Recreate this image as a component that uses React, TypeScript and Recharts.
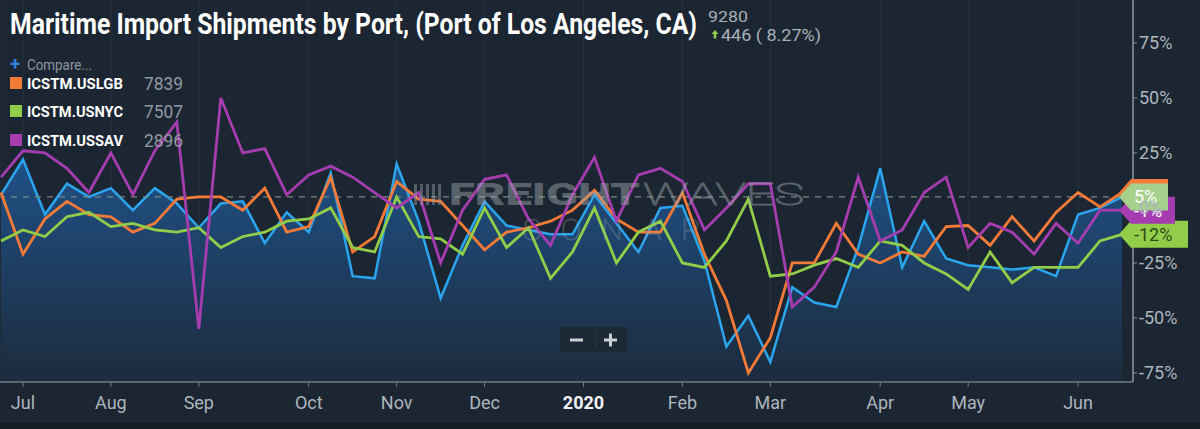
import React from 'react';
import {
  ComposedChart,
  Area,
  Line,
  XAxis,
  YAxis,
  CartesianGrid,
  ReferenceLine,
  ReferenceDot,
} from 'recharts';

// Weekly year-over-year change (%), late Jun 2019 .. mid Jun 2020
const LA_VALUES = [
  6, 22, -3, 11, 5, 9, -1, 9, 2, -9, 2, 3, -16, -2, -11, 16, -31, -32, 20, -6, -41, -17,
  3, -8, -10, -12, -12, 6, -7, -20, 0, 1, -24, -63, -49, -70, -36, -43, -45, -18, 18, -27,
  -6, -23, -26, -27, -28, -27, -31, -3, 0, 5,
];
const LGB_VALUES = [
  7, -21, -5, 3, -3, -4, -11, -7, 4, 5, 5, -1, 9, -11, -8.5, 14, -20, -13, 12, 4, 3, -8,
  -19, -11, -9, -6, -1, 8, -5, -11, -11, 7, -21, -42, -75, -59, -25, -25, -7, -21, -25, -20,
  -22, -8.5, -8, -17, -4, -15, -2, 7, 0.5, 7,
];
const NYC_VALUES = [
  -15, -10, -13, -4, -2, -8.5, -7, -10, -11, -9, -18, -13, -11, -6, -5, 0, -18, -20, 5, -13,
  -14, -21, 0, -18, -9, -32, -20, 0, -25, -11, -6, -25, -27, -15, 4, -31, -30, -26, -23, -27,
  -15, -17, -25, -30, -37, -20, -34, -27, -27, -27, -15, -12,
];
const SAV_VALUES = [
  14, 26, 25, 18, 7, 25, 6, 26, 39, -55, 50, 25, 27, 6, 15, 19, 14, 7, 0, 7, -25, -1, 13,
  15, -5, -17, 6, 23, -6, 15, 18, 12, -10, 0, 11, 11, -45, -36, -20, 14, -15, -10, 7, 14,
  -18, -7, -11, -21, -7, -16, -1, -1,
];

const X_TICKS = [1, 5, 9, 14, 18, 22, 26.5, 31, 35, 40, 44, 49];
const X_LABELS = ['Jul', 'Aug', 'Sep', 'Oct', 'Nov', 'Dec', '2020', 'Feb', 'Mar', 'Apr', 'May', 'Jun'];
const Y_TICKS = [-75, -50, -25, 0, 25, 50, 75];

const LEGEND_NAMES = ['ICSTM.USLGB', 'ICSTM.USNYC', 'ICSTM.USSAV'];
const LEGEND_VALUES = ['7839', '7507', '2896'];

const C_BG = '#1c2632';
const C_BLUE = '#2aa5ee';
const C_ORANGE = '#f47a38';
const C_GREEN = '#92cd4a';
const C_MAGENTA = '#a53db0';
const C_AXIS_TEXT = '#aeb5bd';
const LEGEND_COLORS = [C_ORANGE, C_GREEN, C_MAGENTA];

const data = LA_VALUES.map((v, i) => ({
  i,
  la: v,
  lgb: LGB_VALUES[i],
  nyc: NYC_VALUES[i],
  sav: SAV_VALUES[i],
}));

const LAST = LA_VALUES.length - 1;
const FONT = 'Roboto, "Noto Sans", sans-serif';

const XTick = (props: any) => {
  const { x, y, payload } = props;
  const idx = X_TICKS.indexOf(payload.value);
  const label = X_LABELS[idx] ?? '';
  const bold = label === '2020';
  return (
    <text
      x={x}
      y={y + 20}
      textAnchor="middle"
      fontFamily={FONT}
      fontSize={18}
      fontWeight={bold ? 700 : 400}
      fill={bold ? '#f1f3f5' : C_AXIS_TEXT}
    >
      {label}
    </text>
  );
};

const YTick = (props: any) => {
  const { x, y, payload } = props;
  return (
    <text x={x} y={y + 6.5} textAnchor="start" fontFamily={FONT} fontSize={18} fill={C_AXIS_TEXT}>
      {`${payload.value}%`}
    </text>
  );
};

const makeTag = (fill: string, textColor: string, label: string, width: number) => (props: any) => {
  const { cx, cy } = props;
  if (cx == null || cy == null) return <g />;
  const left = cx - 3;
  const bodyStart = cx + 9;
  const right = bodyStart + width;
  const h = 13.5;
  const d = `M${left},${cy} L${bodyStart},${cy - h} L${right},${cy - h} L${right},${cy + h} L${bodyStart},${cy + h} Z`;
  return (
    <g>
      <path d={d} fill={fill} />
      <text
        x={bodyStart + 3}
        y={cy + 6.5}
        fontFamily={FONT}
        fontSize={18}
        fill={textColor}
      >
        {label}
      </text>
    </g>
  );
};

const fmt = (v: number) => `${Math.round(v)}%`;

export default function App() {
  return (
    <div
      style={{
        position: 'absolute',
        left: 0,
        top: 0,
        width: 1200,
        height: 429,
        background: C_BG,
        overflow: 'hidden',
      }}
    >
      <div style={{ position: 'absolute', left: 0, top: 423, width: 1200, height: 6, background: '#151c25' }} />
      <div style={{ position: 'absolute', left: 0, top: 0 }}>
        <ComposedChart width={1200} height={423} data={data} margin={{ top: 0, right: 0, bottom: 0, left: 0 }}>
          <defs>
            <linearGradient id="laFill" x1="0" y1="0" x2="0" y2="1">
              <stop offset="0%" stopColor="#1f5186" stopOpacity={1} />
              <stop offset="100%" stopColor="#1c2b3d" stopOpacity={1} />
            </linearGradient>
          </defs>
          <CartesianGrid vertical horizontal={false} stroke="#25313e" strokeWidth={1} />
          <XAxis
            type="number"
            dataKey="i"
            domain={[-0.0455, 51.5]}
            ticks={X_TICKS}
            allowDataOverflow
            height={41}
            axisLine={{ stroke: '#727d88', strokeWidth: 1.5 }}
            tickLine={{ stroke: '#727d88' }}
            tickSize={5}
            tick={<XTick />}
            interval={0}
          />
          <YAxis
            orientation="right"
            type="number"
            domain={[-79.1, 94.5]}
            ticks={Y_TICKS}
            allowDataOverflow
            width={67}
            axisLine={{ stroke: '#8d959d', strokeWidth: 1.5 }}
            tickLine={{ stroke: '#8d959d' }}
            tickSize={4}
            tick={<YTick />}
            interval={0}
          />
          <Area
            type="linear"
            dataKey="la"
            stroke={C_BLUE}
            strokeWidth={2.5}
            fill="url(#laFill)"
            fillOpacity={1}
            baseValue="dataMin"
            isAnimationActive={false}
            dot={false}
            activeDot={false}
          />
          <ReferenceLine y={LA_VALUES[LAST]} stroke="#7b877f" strokeDasharray="6 6" strokeWidth={1.3} />
          <Line type="linear" dataKey="lgb" stroke={C_ORANGE} strokeWidth={2.8} dot={false} activeDot={false} isAnimationActive={false} />
          <Line type="linear" dataKey="nyc" stroke={C_GREEN} strokeWidth={2.8} dot={false} activeDot={false} isAnimationActive={false} />
          <Line type="linear" dataKey="sav" stroke={C_MAGENTA} strokeWidth={2.8} dot={false} activeDot={false} isAnimationActive={false} />
          <ReferenceDot
            x={LAST}
            y={NYC_VALUES[LAST]}
            ifOverflow="visible"
            shape={makeTag(C_GREEN, '#2e4a1a', fmt(NYC_VALUES[LAST]), 57)}
          />
          <ReferenceDot
            x={LAST}
            y={LGB_VALUES[LAST]}
            ifOverflow="visible"
            shape={makeTag(C_ORANGE, '#ffffff', fmt(LGB_VALUES[LAST]), 37)}
          />
          <ReferenceDot
            x={LAST}
            y={SAV_VALUES[LAST]}
            ifOverflow="visible"
            shape={makeTag(C_MAGENTA, '#ffffff', fmt(SAV_VALUES[LAST]), 44)}
          />
          <ReferenceDot
            x={LAST}
            y={LA_VALUES[LAST]}
            ifOverflow="visible"
            shape={makeTag('#a6d18d', '#ffffff', fmt(LA_VALUES[LAST]), 37)}
          />
        </ComposedChart>
      </div>
      <svg
        width={1200}
        height={429}
        style={{ position: 'absolute', left: 0, top: 0, pointerEvents: 'none' }}
      >
        {/* watermark */}
        <g opacity={0.45}>
          <rect x={414} y={184} width={3} height={21} fill="#9aa1a8" />
          <rect x={420} y={184} width={3} height={21} fill="#9aa1a8" />
          <rect x={426} y={184} width={3} height={21} fill="#9aa1a8" />
          <rect x={432} y={184} width={3} height={21} fill="#9aa1a8" />
          <rect x={438} y={184} width={3} height={21} fill="#9aa1a8" />
          <text x={449} y={205} fontFamily={FONT} fontWeight={900} fontSize={31} fill="#a3a9b0" textLength={191} lengthAdjust="spacingAndGlyphs">
            FREIGHT
          </text>
          <text x={643} y={205} fontFamily={FONT} fontWeight={100} fontSize={31} fill="none" stroke="#a3a9b0" strokeWidth={1} textLength={161} lengthAdjust="spacingAndGlyphs">
            WAVES
          </text>
        </g>
        <g opacity={0.28}>
          <text x={523} y={240} fontFamily={FONT} fontWeight={100} fontSize={30} fill="none" stroke="#a3a9b0" strokeWidth={1} textLength={178} lengthAdjust="spacing">
            SONAR
          </text>
        </g>

        {/* zoom buttons */}
        <rect x={560} y={327} width={67} height={25} rx={2} fill="#1d2733" opacity={0.9} />
        <line x1={596} y1={331} x2={596} y2={348} stroke="#2c3845" strokeWidth={1} />
        <rect x={570} y={338.5} width={13} height={3} fill="#c9ced3" />
        <rect x={604} y={338.5} width={13} height={3} fill="#c9ced3" />
        <rect x={609} y={333.5} width={3} height={13} fill="#c9ced3" />

        {/* title */}
        <text x={10} y={34} fontFamily={FONT} fontWeight={700} fontSize={29} fill="#ffffff" textLength={687} lengthAdjust="spacingAndGlyphs">
          Maritime Import Shipments by Port, (Port of Los Angeles, CA)
        </text>
        <text x={708} y={22} fontFamily={FONT} fontSize={15} fill="#a9b0b8" textLength={40} lengthAdjust="spacingAndGlyphs">
          9280
        </text>
        <path d="M711.5,34 L715,30 L718.5,34 L716.3,34 L716.3,38.5 L713.7,38.5 L713.7,34 Z" fill={C_GREEN} />
        <text x={721} y={41} fontFamily={FONT} fontSize={16} fill="#a9b0b8" textLength={100} lengthAdjust="spacingAndGlyphs">
          446 ( 8.27%)
        </text>

        {/* legend */}
        <text x={10} y={70} fontFamily={FONT} fontSize={19} fontWeight={700} fill="#2f7fdc">
          +
        </text>
        <text x={27} y={70} fontFamily={FONT} fontSize={14} fill="#8d969f" textLength={65} lengthAdjust="spacingAndGlyphs">
          Compare...
        </text>
        {LEGEND_NAMES.map((name, k) => {
          const base = [89, 117, 146][k];
          return (
            <g key={name}>
              <rect x={10} y={base - 12} width={12} height={12} fill={LEGEND_COLORS[k]} />
              <text x={27} y={base} fontFamily={FONT} fontWeight={700} fontSize={15.5} fill="#ffffff" textLength={96} lengthAdjust="spacingAndGlyphs">
                {name}
              </text>
              <text x={144} y={base + 1} fontFamily={FONT} fontSize={18} fill="#9099a3" textLength={39} lengthAdjust="spacingAndGlyphs">
                {LEGEND_VALUES[k]}
              </text>
            </g>
          );
        })}
      </svg>
    </div>
  );
}
